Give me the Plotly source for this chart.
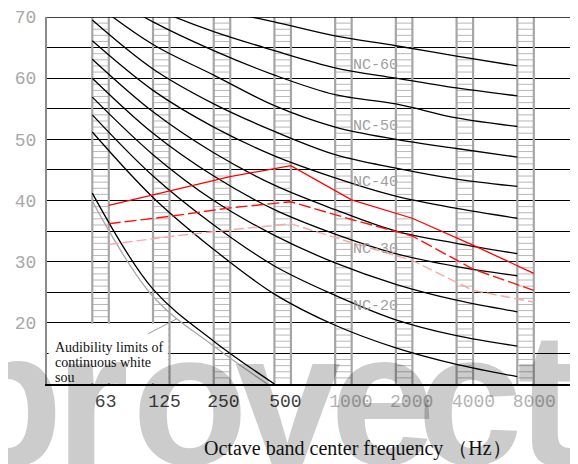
import plotly.graph_objects as go

# ---------------- data ----------------
bands = ["63", "125", "250", "500", "1000", "2000", "4000", "8000"]
band_idx = list(range(len(bands)))

nc15 = [51.2, 40.5, 32.0, 24.7, 19.6, 15.9, 13.2, 11.2]
nc20 = [54.0, 44.0, 36.0, 29.3, 24.5, 20.5, 17.9, 16.2]
nc25 = [56.9, 47.5, 40.0, 34.3, 29.8, 26.3, 23.7, 21.8]
nc30 = [60.0, 51.0, 44.0, 38.5, 34.5, 31.3, 29.2, 27.7]
nc35 = [63.1, 54.5, 47.8, 42.5, 38.5, 35.0, 33.0, 31.3]
nc40 = [66.1, 58.0, 52.0, 47.3, 43.7, 40.7, 38.7, 37.1]
nc45 = [69.5, 61.5, 55.8, 51.3, 47.5, 45.3, 43.5, 42.3]
nc50 = [72.5, 65.5, 60.5, 55.5, 52.0, 50.0, 48.5, 47.1]
nc55 = [75.0, 69.2, 64.5, 60.5, 57.3, 55.8, 53.5, 52.1]
nc60 = [76.5, 71.5, 67.6, 64.5, 61.7, 60.0, 58.4, 57.1]
nc65 = [80.0, 75.5, 71.5, 69.2, 66.9, 65.3, 63.6, 62.0]
nc_curves = [nc15, nc20, nc25, nc30, nc35, nc40, nc45, nc50, nc55, nc60, nc65]

audibility_black = [41.2, 25.5, 17.0, 10.0]
audibility_gray = [39.9, 24.3, 16.2, 9.2]

meas_solid = [39.2, 41.5, 43.9, 45.7, 40.1, 37.1, 32.7, 28.1]
meas_dash = [36.2, 37.4, 38.8, 39.8, 36.9, 34.2, 28.8, 25.3]
meas_pale = [32.8, 34.1, 35.2, 36.2, 33.1, 30.2, 25.3, 23.4]

nc_label_text = ["NC-60", "NC-50", "NC-40", "NC-30", "NC-20"]
nc_label_y = [62.0, 52.1, 43.0, 32.0, 22.6]

note_lines = ["Audibility limits of", "continuous white", "sou"]
watermark_letters = ["p", "r", "o", "v", "e", "c", "t"]

y_ticks = list(range(10, 71, 5))
y_ticktext = [str(v) if (v % 10 == 0 and v > 10) else "" for v in y_ticks]

# ---------------- style / layout helpers ----------------
LADDER_W = 0.272
MEAS_OFF = 0.27
X_RANGE = [-0.746, 8.0]
label_off = [0.22, 0.19, 0.16, 0.18, 0.26, 0.26, 0.28, 0.28]
label_col = ["#404040"] * 4 + ["#b4b4b4"] * 4

# page pixel -> paper coordinates (plot area: x 47..578, y 12.3..384.3 in the window)
def px(X):
    return (X - 47) / 531.0

def py(Y):
    return (384.3 - Y) / 372.0

fig = go.Figure()

# ladders (rails + rungs)
rx, ry, gx, gy = [], [], [], []
for i in band_idx:
    for xx in (i, i + LADDER_W):
        rx += [xx, xx, None]
        ry += [10, 70, None]
    for v in range(11, 70):
        if v % 5:
            gx += [i, i + LADDER_W, None]
            gy += [v, v, None]
fig.add_trace(go.Scatter(x=gx, y=gy, mode="lines", line=dict(color="#b8b8b8", width=1),
                         hoverinfo="skip", showlegend=False))
fig.add_trace(go.Scatter(x=rx, y=ry, mode="lines", line=dict(color="#a6a6a6", width=2.2),
                         hoverinfo="skip", showlegend=False))

# NC curves
for c in nc_curves:
    fig.add_trace(go.Scatter(x=band_idx, y=c, mode="lines", line=dict(color="black", width=1.3, shape="spline"),
                             showlegend=False, hoverinfo="skip"))

# audibility limits
fig.add_trace(go.Scatter(x=band_idx[:4], y=audibility_gray, mode="lines",
                         line=dict(color="#a8a8a8", width=1.3, shape="spline"), showlegend=False))
fig.add_trace(go.Scatter(x=band_idx[:4], y=audibility_black, mode="lines",
                         line=dict(color="black", width=1.3, shape="spline"), showlegend=False))

# measured spectra
mx = [i + MEAS_OFF for i in band_idx]
fig.add_trace(go.Scatter(x=mx, y=meas_pale, mode="lines",
                         line=dict(color="#ffa5a5", width=1.4, dash="10px,4px"), showlegend=False))
fig.add_trace(go.Scatter(x=mx, y=meas_dash, mode="lines",
                         line=dict(color="#ff1010", width=1.4, dash="12px,4px"), showlegend=False))
fig.add_trace(go.Scatter(x=mx, y=meas_solid, mode="lines",
                         line=dict(color="#ff0000", width=1.3), showlegend=False))

shapes = [
    dict(type="line", xref="x", yref="y", x0=X_RANGE[0], x1=X_RANGE[1], y0=70, y1=70,
         line=dict(color="black", width=1.3), layer="above"),
    dict(type="rect", xref="x", yref="y", x0=-0.72, x1=1.245, y0=10.15, y1=19.85,
         fillcolor="white", line=dict(width=0), layer="above"),
    dict(type="line", xref="x", yref="y", x0=0.923, y0=18.23, x1=1.39, y1=20.65,
         line=dict(color="#9a9a9a", width=1), layer="above"),
]

annotations = []
# watermark (one letter per annotation)
wm_x = [5, 92, 190, 288, 383, 470, 548]
for ch, X in zip(watermark_letters, wm_x):
    annotations.append(dict(text=ch, xref="paper", yref="paper", x=px(X), y=py(289),
                            xanchor="center", yanchor="top", showarrow=False,
                            font=dict(family="Liberation Sans, Arial", size=190,
                                      color="rgba(0,0,0,0.2)", weight="bold")))
for t, yv in zip(nc_label_text, nc_label_y):
    annotations.append(dict(text=t, x=4.66, y=yv, xref="x", yref="y", showarrow=False,
                            font=dict(family="Liberation Mono", size=15, color="#a0a0a0")))
for t, Y in zip(note_lines, [347, 362.5, 378]):
    annotations.append(dict(text=t, xref="paper", yref="paper", x=px(53), y=py(Y),
                            xanchor="left", yanchor="middle", showarrow=False,
                            font=dict(family="Liberation Serif", size=14, color="#111")))
annotations.append(dict(text="Octave band center frequency （Hz）", xref="paper", yref="paper",
                        x=px(358), y=py(450), xanchor="center", yanchor="middle", showarrow=False,
                        font=dict(family="Liberation Serif", size=20, color="#111")))

fig.update_layout(
    width=570, height=456,
    margin=dict(l=39, r=0, t=4, b=80),
    plot_bgcolor="white", paper_bgcolor="white",
    shapes=shapes, annotations=annotations,
    xaxis=dict(range=X_RANGE, showgrid=False, zeroline=False, showline=True, linecolor="black", linewidth=1.5,
               tickvals=[i + o for i, o in zip(band_idx, label_off)],
               ticktext=[f'<span style="color:{c}">{b}</span>' for b, c in zip(bands, label_col)],
               ticks="", ticklabeloverflow="allow",
               tickfont=dict(family="Liberation Mono", size=18, color="#404040")),
    yaxis=dict(range=[10, 70], tickvals=y_ticks, ticktext=y_ticktext, showgrid=True, gridcolor="black",
               gridwidth=1.3, zeroline=False, showline=True, linecolor="#8a8a8a", linewidth=2.2,
               ticks="outside", ticklen=5, tickcolor="rgba(0,0,0,0)", ticklabeloverflow="allow",
               tickfont=dict(family="Liberation Mono", size=18, color="#a8a8a8")),
)

fig.write_html("out.html")
